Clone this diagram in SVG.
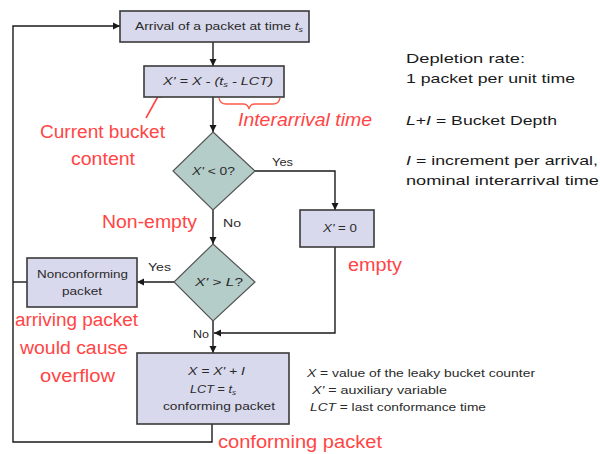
<svg xmlns="http://www.w3.org/2000/svg" width="600" height="454" viewBox="0 0 600 454">
<defs>
<marker id="ah" markerWidth="8" markerHeight="8" refX="7" refY="4" orient="auto" markerUnits="userSpaceOnUse">
<path d="M0,0.5 L7,4 L0,7.5 z" fill="#1a1a1a"/>
</marker>
<style>
.box{fill:#d9d9ed;stroke:#3a3a3a;stroke-width:1.6}
.dia{fill:#b4cdc9;stroke:#555;stroke-width:1.2}
.ln{fill:none;stroke:#1a1a1a;stroke-width:1.4}
.t{font-family:"Liberation Sans",Arial,sans-serif;fill:#2a2a2a}
.s{font-size:11px}
.red{font-family:"Liberation Sans",Arial,sans-serif;fill:#ff4545;font-size:18px}
.r{font-family:"Liberation Sans",Arial,sans-serif;fill:#1a1a1a;font-size:13.5px}
.i{font-style:italic}
</style>
</defs>
<rect width="600" height="454" fill="#ffffff"/>
<g id="connectors">
<path class="ln" d="M13,282 L13,26 L120,26" marker-end="url(#ah)"/>
<path class="ln" d="M13,282 L27,282"/>
<path class="ln" d="M213,42 L213,66" marker-end="url(#ah)"/>
<path class="ln" d="M213,97 L213,132" marker-end="url(#ah)"/>
<path class="ln" d="M255,171 L335,171 L335,210" marker-end="url(#ah)"/>
<path class="ln" d="M213,210 L213,244" marker-end="url(#ah)"/>
<path class="ln" d="M174,282 L137,282" marker-end="url(#ah)"/>
<path class="ln" d="M335,247 L335,333 L214,333" marker-end="url(#ah)"/>
<path class="ln" d="M213,321 L213,353" marker-end="url(#ah)"/>
<path class="ln" d="M212,424 L212,442 L13,442 L13,282"/>
<path d="M146,118 L161,91" fill="none" stroke="#ff4545" stroke-width="1.6"/>
<path d="M161,91 L155,95 L161,97 z" fill="#ff4545" stroke="#ff4545" stroke-width="1.5"/>
<path d="M219,98 Q220,104 226,104 L243,104 Q248,104 249,109 Q250,104 255,104 L273,104 Q279,104 280,98" fill="none" stroke="#ff5a4a" stroke-width="1.4"/>
</g>
<g id="arrival">
<rect class="box" x="120" y="11" width="189" height="31"/>
<text class="t s" x="135" y="30" textLength="168" lengthAdjust="spacingAndGlyphs">Arrival of a packet at time <tspan class="i">t</tspan><tspan font-size="7" dy="2" class="i">s</tspan></text>
</g>
<g id="compute">
<rect class="box" x="144" y="66" width="140" height="31"/>
<text class="t s i" x="163" y="85" textLength="110" lengthAdjust="spacingAndGlyphs">X' = X - (t<tspan font-size="7" dy="2">s</tspan><tspan dy="-2">  - LCT)</tspan></text>
</g>
<g id="dec1">
<polygon class="dia" points="213,132 255,171 213,210 173,171"/>
<text class="t s" x="192" y="175" textLength="43" lengthAdjust="spacingAndGlyphs"><tspan class="i">X'</tspan> &lt; 0?</text>
</g>
<g id="zero">
<rect class="box" x="300" y="210" width="74" height="37"/>
<text class="t s" x="323" y="232" textLength="34" lengthAdjust="spacingAndGlyphs"><tspan class="i">X'</tspan> = 0</text>
</g>
<g id="dec2">
<polygon class="dia" points="213,244 255,282 213,321 174,282"/>
<text class="t s" x="195" y="286" textLength="48" lengthAdjust="spacingAndGlyphs"><tspan class="i">X'</tspan> &gt; <tspan class="i">L</tspan>?</text>
</g>
<g id="nonconf">
<rect class="box" x="27" y="258" width="110" height="49"/>
<text class="t s" x="37" y="278" textLength="91" lengthAdjust="spacingAndGlyphs">Nonconforming</text>
<text class="t s" x="62" y="295" textLength="40" lengthAdjust="spacingAndGlyphs">packet</text>
</g>
<g id="conf">
<rect class="box" x="137" y="353" width="152" height="71"/>
<text class="t s i" x="188" y="375" textLength="57" lengthAdjust="spacingAndGlyphs">X = X' + I</text>
<text class="t s" x="190" y="393" textLength="46" lengthAdjust="spacingAndGlyphs"><tspan class="i">LCT</tspan> = <tspan class="i">t</tspan><tspan font-size="7" dy="2" class="i">s</tspan></text>
<text class="t s" x="163" y="410" textLength="112" lengthAdjust="spacingAndGlyphs">conforming packet</text>
</g>
<g id="labels">
<text class="t s" x="272" y="166" textLength="21" lengthAdjust="spacingAndGlyphs">Yes</text>
<text class="t s" x="223" y="227" textLength="18" lengthAdjust="spacingAndGlyphs">No</text>
<text class="t s" x="148" y="271" textLength="23" lengthAdjust="spacingAndGlyphs">Yes</text>
<text class="t s" x="193" y="338" textLength="16" lengthAdjust="spacingAndGlyphs">No</text>
<text class="red" x="40" y="138" textLength="125" lengthAdjust="spacingAndGlyphs">Current bucket</text>
<text class="red" x="71" y="165" textLength="64" lengthAdjust="spacingAndGlyphs">content</text>
<text class="red i" x="238" y="126" textLength="134" lengthAdjust="spacingAndGlyphs">Interarrival time</text>
<text class="red" x="102" y="228" textLength="95" lengthAdjust="spacingAndGlyphs">Non-empty</text>
<text class="red" x="348" y="271" textLength="54" lengthAdjust="spacingAndGlyphs">empty</text>
<text class="red" x="15" y="326" textLength="123" lengthAdjust="spacingAndGlyphs">arriving packet</text>
<text class="red" x="20" y="354" textLength="108" lengthAdjust="spacingAndGlyphs">would cause</text>
<text class="red" x="40" y="382" textLength="75" lengthAdjust="spacingAndGlyphs">overflow</text>
<text class="red" x="218" y="448" textLength="164" lengthAdjust="spacingAndGlyphs">conforming packet</text>
<text class="t" font-size="11" x="307" y="377" textLength="228" lengthAdjust="spacingAndGlyphs"><tspan class="i">X</tspan> =  value of the leaky bucket counter</text>
<text class="t" font-size="11" x="312" y="394" textLength="135" lengthAdjust="spacingAndGlyphs"><tspan class="i">X'</tspan> =  auxiliary variable</text>
<text class="t" font-size="11" x="310" y="411" textLength="176" lengthAdjust="spacingAndGlyphs"><tspan class="i">LCT</tspan> = last conformance time</text>
<text class="r" x="406" y="63" textLength="119" lengthAdjust="spacingAndGlyphs">Depletion rate:</text>
<text class="r" x="406" y="83" textLength="169" lengthAdjust="spacingAndGlyphs">1 packet per unit time</text>
<text class="r" x="406" y="125" textLength="151" lengthAdjust="spacingAndGlyphs"><tspan class="i">L</tspan>+<tspan class="i">I</tspan> = Bucket Depth</text>
<text class="r" x="406" y="165" textLength="192" lengthAdjust="spacingAndGlyphs"><tspan class="i">I</tspan> = increment per arrival,</text>
<text class="r" x="406" y="185" textLength="193" lengthAdjust="spacingAndGlyphs">nominal interarrival time</text>
</g>
</svg>
